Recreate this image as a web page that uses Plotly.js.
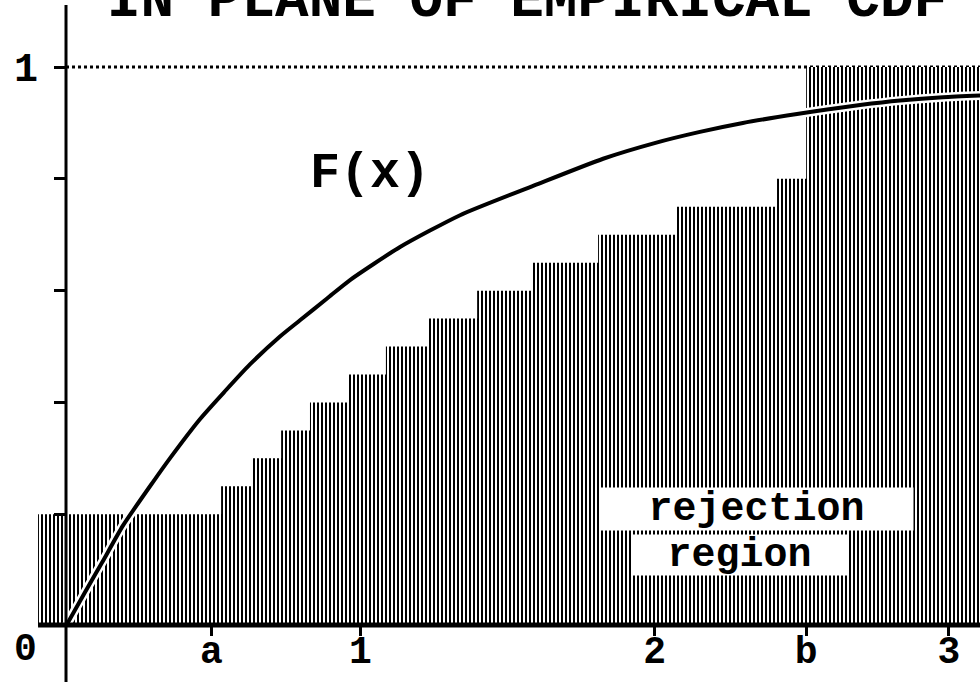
<!DOCTYPE html>
<html>
<head>
<meta charset="utf-8">
<script src="https://cdn.plot.ly/plotly-3.0.1.min.js"></script>
<style>html,body{margin:0;padding:0;background:#fff;}#chart{width:980px;height:682px;}</style>
</head>
<body>
<div id="chart"></div>
<script>
// Rejection region: empirical-CDF step boundary (edges and step heights)
const stepEdges = [-0.095, 0.527, 0.632, 0.731, 0.829, 0.958, 1.087, 1.230, 1.397, 1.580, 1.808, 2.076, 2.416, 2.515, 3.106];
const stepHeights = [0.20, 0.25, 0.30, 0.35, 0.40, 0.45, 0.50, 0.55, 0.60, 0.65, 0.70, 0.75, 0.80, 1.00];

// Hypothesised CDF F(x)
const curveX = [0, 0.065, 0.122, 0.194, 0.296, 0.353, 0.455, 0.540, 0.625, 0.727, 0.795, 0.887, 0.965, 1.135, 1.339, 1.600, 1.825, 2.000, 2.154, 2.300, 2.484, 2.586, 2.698, 2.834, 2.980, 3.106];
const curveY = [0, 0.061, 0.113, 0.180, 0.258, 0.300, 0.370, 0.420, 0.468, 0.518, 0.547, 0.586, 0.619, 0.678, 0.735, 0.790, 0.836, 0.864, 0.884, 0.900, 0.916, 0.924, 0.932, 0.940, 0.946, 0.949];

// Axis ticks
const xTickVals = [0.494, 1, 2, 2.515, 3];
const xTickText = ['a', '1', '2', 'b', '3'];
const yTickVals = [0.2, 0.4, 0.6, 0.8, 1];
const yTickText = ['', '', '', '', '1'];

const titleText = 'IN PLANE OF EMPIRICAL CDF';
const curveLabel = 'F(x)';
const regionLine1 = 'rejection';
const regionLine2 = 'region';
const originLabel = '0';

const FONT = 'Liberation Mono, DejaVu Sans Mono, monospace';

const stepY = stepHeights.concat([stepHeights[stepHeights.length - 1]]);

const traces = [
  {
    type: 'scatter', mode: 'lines',
    x: stepEdges, y: stepY,
    line: {shape: 'hv', width: 0, color: 'black'},
    fill: 'tozeroy',
    fillcolor: 'black',
    fillpattern: {shape: '|', size: 4, solidity: 0.5, fgcolor: 'black', bgcolor: 'white', fillmode: 'replace'},
    hoverinfo: 'skip'
  },
  {
    type: 'scatter', mode: 'lines',
    x: curveX, y: curveY,
    line: {color: 'white', width: 9, shape: 'spline', smoothing: 0.6},
    hoverinfo: 'skip'
  },
  {
    type: 'scatter', mode: 'lines',
    x: curveX, y: curveY,
    line: {color: 'black', width: 4, shape: 'spline', smoothing: 0.6},
    hoverinfo: 'skip'
  }
];

const layout = {
  width: 980, height: 682,
  margin: {l: 0, r: 0, t: 0, b: 56, pad: 0},
  paper_bgcolor: 'white', plot_bgcolor: 'white',
  showlegend: false,
  xaxis: {
    range: [-0.2243, 3.1057], showgrid: false, zeroline: false, showline: false,
    ticks: 'outside', ticklen: 9, tickwidth: 3, tickcolor: 'black',
    tickvals: xTickVals, ticktext: xTickText,
    ticklabelstandoff: -19,
    tickfont: {family: FONT, size: 38, color: 'black', weight: 'bold'},
    fixedrange: true
  },
  yaxis: {
    range: [0, 1.12], anchor: 'free', position: 0.06735,
    showgrid: false, zeroline: false, showline: false,
    ticks: 'outside', ticklen: 12, tickwidth: 3, tickcolor: 'black',
    tickvals: yTickVals, ticktext: yTickText,
    ticklabelstandoff: 8,
    tickfont: {family: FONT, size: 40, color: 'black', weight: 'bold'},
    fixedrange: true
  },
  shapes: [
    {type: 'line', xref: 'x', yref: 'y', x0: 0, x1: 3.1057, y0: 1, y1: 1,
     line: {color: 'black', width: 3, dash: 'dot'}, layer: 'below'},
    {type: 'line', xref: 'x', yref: 'paper', x0: 0, x1: 0, y0: -0.0895, y1: 0.992,
     line: {color: 'black', width: 3}, layer: 'above'},
    {type: 'line', xref: 'x', yref: 'paper', x0: -0.095, x1: 3.1057, y0: 0.0015, y1: 0.0015,
     line: {color: 'black', width: 5}, layer: 'above'}
  ],
  annotations: [
    {text: titleText, xref: 'paper', yref: 'paper', x: 0.538, y: 0.998,
     xanchor: 'center', yanchor: 'middle', showarrow: false,
     font: {family: FONT, size: 56, color: 'black', weight: 'bold'}},
    {text: curveLabel, xref: 'x', yref: 'y', x: 1.033, y: 0.81,
     xanchor: 'center', yanchor: 'middle', showarrow: false,
     font: {family: FONT, size: 50, color: 'black', weight: 'bold'}},
    {text: regionLine1, xref: 'x', yref: 'y', x: 2.346, y: 0.209,
     xanchor: 'center', yanchor: 'middle', showarrow: false,
     width: 313, height: 42, bgcolor: 'white', borderpad: 0,
     font: {family: FONT, size: 40, color: 'black', weight: 'bold'}},
    {text: regionLine2, xref: 'x', yref: 'y', x: 2.290, y: 0.127,
     xanchor: 'center', yanchor: 'middle', showarrow: false,
     width: 215, height: 40, bgcolor: 'white', borderpad: 0,
     font: {family: FONT, size: 40, color: 'black', weight: 'bold'}},
    {text: originLabel, xref: 'x', yref: 'paper', x: -0.139, y: -0.0383,
     xanchor: 'center', yanchor: 'middle', showarrow: false,
     font: {family: FONT, size: 38, color: 'black', weight: 'bold'}}
  ]
};

Plotly.newPlot('chart', traces, layout, {staticPlot: true, displayModeBar: false});
</script>
</body>
</html>
